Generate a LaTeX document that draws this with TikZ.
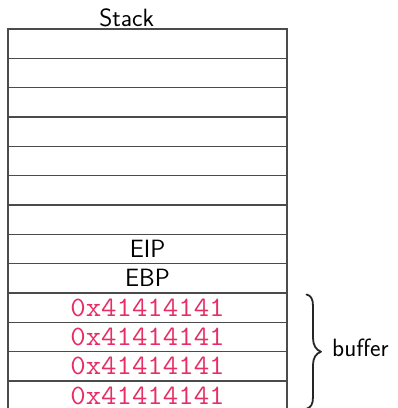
\documentclass[tikz,border=0pt]{standalone}
\usepackage{xcolor}
\definecolor{hexpink}{RGB}{230,45,100}
\definecolor{gridline}{RGB}{75,75,75}
\begin{document}
\begin{tikzpicture}[x=1pt,y=-1pt,
  cell/.style={draw=gridline,line width=1.3pt,minimum width=279pt,minimum height=29.33pt,inner sep=0,outer sep=0},
  lbl/.style={font=\fontsize{25}{30}\selectfont\sffamily,inner sep=0},
  hex/.style={font=\fontsize{28}{32}\selectfont\ttfamily,text=hexpink,inner sep=0,xscale=1.07},
  bracestyle/.style={draw=black!85,line width=1.8pt,line cap=round,line join=round}]
\useasboundingbox (0,0) rectangle (398,408);
\foreach \i in {0,...,12} {
  \node[cell] (r\i) at (147.5,{29+29.33*\i+14.665}) {};
}
\node[lbl,anchor=base] (title) at (126.7,26.7) {Stack};
\node[lbl] (eip) at (r7.center) {EIP};
\node[lbl] (ebp) at (r8.center) {EBP};
\foreach \i in {9,...,12} {
  \node[hex] (h\i) at (r\i.center) {0x41414141};
}
\draw[bracestyle] (306.5,294.5) .. controls (311,295.5) and (313,299) .. (313,306)
  -- (313,338) .. controls (313,345) and (316,350) .. (321,351.7)
  .. controls (316,353.4) and (313,358) .. (313,365)
  -- (313,397) .. controls (313,404) and (311,407.5) .. (306.5,408.8);
\node[lbl,anchor=base west] (buf) at (332,356) {buffer};
\end{tikzpicture}
\end{document}
